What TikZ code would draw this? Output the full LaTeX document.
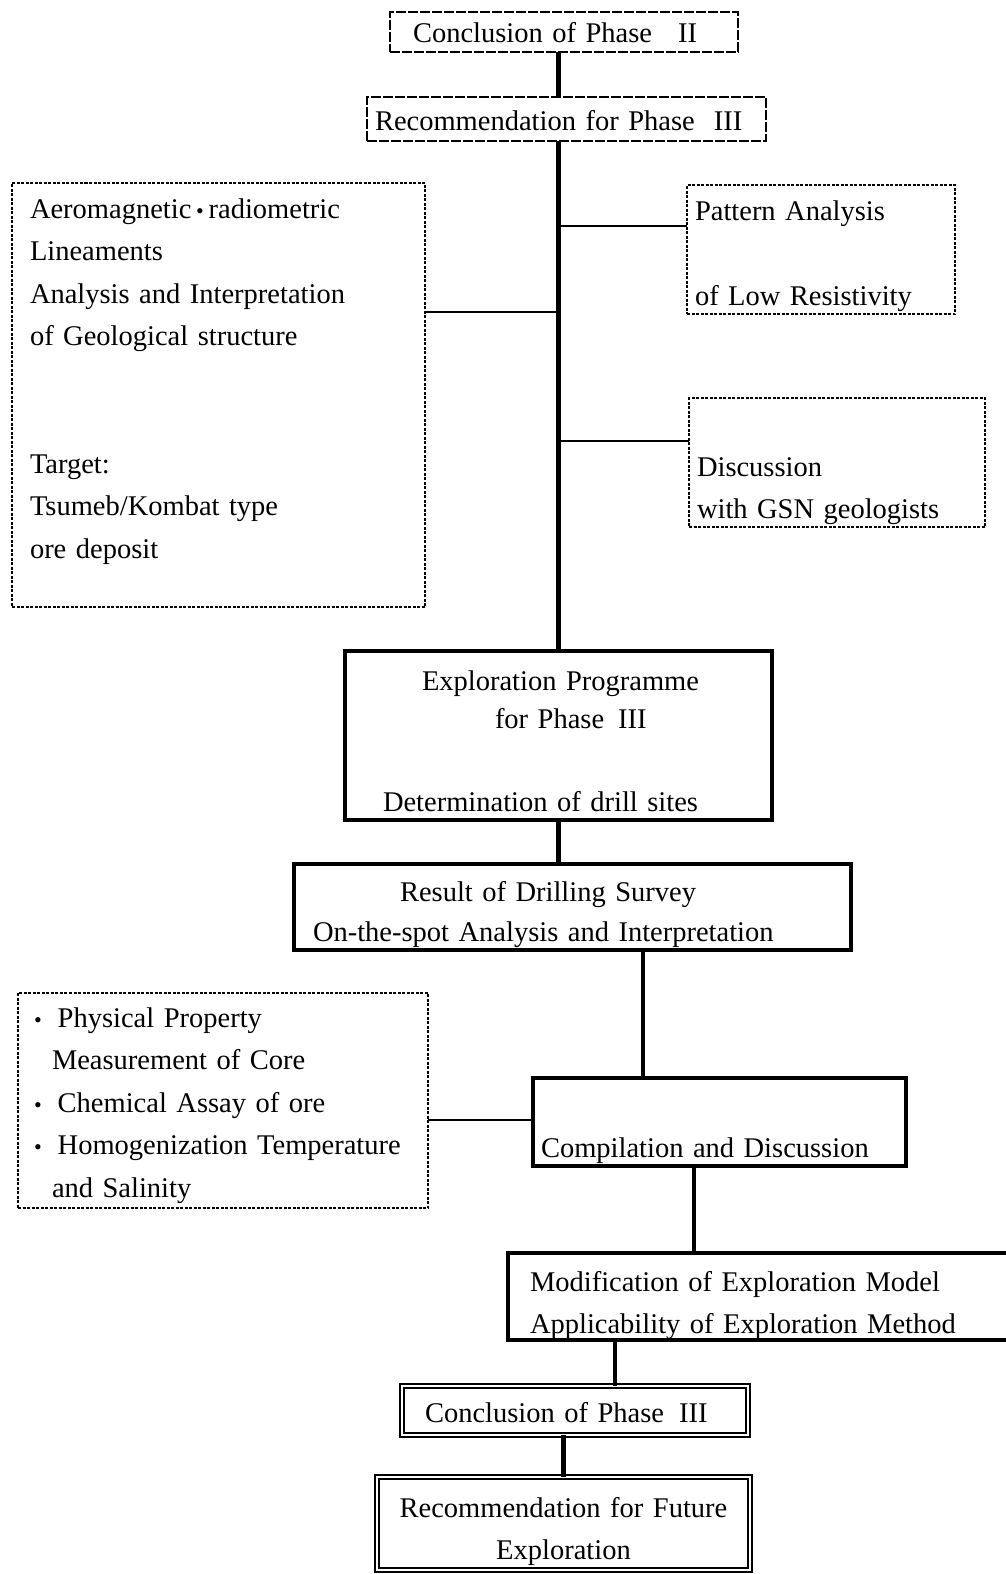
\documentclass[tikz,border=0pt]{standalone}
\usepackage{fontspec}
\setmainfont[WordSpace=0.85]{Liberation Serif}
\newcommand{\ptdot}{\raisebox{0pt}{\fontsize{22}{22}\selectfont\textbullet}}
\begin{document}
\begin{tikzpicture}[x=1pt,y=-1pt,
    font=\fontsize{28.5}{42.5}\selectfont,
    box/.style={draw,rectangle,anchor=north west,inner ysep=0pt,outer sep=0pt,align=left},
    phasebox/.style={box,line width=1.8pt,dash pattern=on 10pt off 2pt},
    notebox/.style={box,line width=1.2pt,dash pattern=on 3pt off 1.5pt},
    stepbox/.style={box,line width=3.5pt},
    endbox/.style={box,line width=1.4pt,double,double distance=2.5pt},
    trunk/.style={line width=4.5pt},
    branch/.style={line width=1.4pt}]
  \useasboundingbox (0,0) rectangle (1006,1574);
  % upper part
  \node[phasebox,inner xsep=23pt,text width=302pt,text height=30pt,text depth=10pt]
    (conc2) at (390,12) {Conclusion of Phase\hspace{26pt}II};
  \node[phasebox,inner xsep=8pt,text width=383pt,text height=33pt,text depth=11pt]
    (rec3) at (367,97) {Recommendation for Phase\hspace{19pt}III};
  \node[notebox,inner xsep=18pt,text width=377pt,text height=35pt,text depth=389pt]
    (info) at (12,183) {Aeromagnetic\,\ptdot\,radiometric\\Lineaments\\Analysis and Interpretation\\
      of Geological structure\\[85pt]Target:\\Tsumeb/Kombat type\\ore deposit};
  \node[notebox,inner xsep=8pt,text width=252pt,text height=35pt,text depth=94pt]
    (patt) at (687,185) {Pattern Analysis\\[42.5pt]of Low Resistivity};
  \node[notebox,inner xsep=8pt,text width=280pt,text height=78pt,text depth=51pt]
    (disc) at (689,398) {Discussion\\with GSN geologists};
  \node[stepbox,inner xsep=38pt,text width=351pt,text height=39pt,text depth=130pt]
    (expl) at (345,651) {\hspace*{39pt}Exploration Programme\\[-4pt]
      \hspace*{112pt}for Phase\hspace{14pt}III\\[40pt]Determination of drill sites};
  % lower part
  \node[stepbox,inner xsep=19pt,text width=519pt,text height=37pt,text depth=49pt]
    (res) at (294,864) {\hspace*{87pt}Result of Drilling Survey\\[-2pt]
      On-the-spot Analysis and Interpretation};
  \node[notebox,inner xsep=16pt,text width=378pt,text height=34pt,text depth=181pt]
    (phys) at (18,993) {\ptdot\hspace{16pt}Physical Property\\
      \hspace*{18pt}Measurement of Core\\
      \ptdot\hspace{16pt}Chemical Assay of ore\\
      \ptdot\hspace{16pt}Homogenization Temperature\\
      \hspace*{18pt}and Salinity};
  \node[stepbox,inner xsep=8pt,text width=357pt,text height=79pt,text depth=9pt]
    (comp) at (533,1078) {Compilation and Discussion};
  \node[stepbox,inner xsep=22pt,text width=460pt,text height=38pt,text depth=49pt]
    (modi) at (508,1253) {Modification of Exploration Model\\Applicability of Exploration Method};
  \node[endbox,inner xsep=23pt,text width=300pt,text height=36pt,text depth=13pt]
    (conc3) at (402,1386) {Conclusion of Phase\hspace{15pt}III};
  \node[endbox,align=center,inner xsep=10pt,text width=353pt,text height=40pt,text depth=53pt]
    (recf) at (377,1477) {Recommendation for Future\\Exploration};
  % connectors
  \coordinate (a1) at (558,226);
  \coordinate (a2) at (558,312);
  \coordinate (a3) at (558,441);
  \draw[trunk] (conc2.south -| expl.north) -- (rec3.north -| expl.north);
  \draw[trunk] (rec3.south -| expl.north) -- (expl.north);
  \draw[branch] (a1) -- (a1 -| patt.west);
  \draw[branch] (a2) -- (a2 -| info.east);
  \draw[branch] (a3) -- (a3 -| disc.west);
  \draw[trunk] (expl.south) -- (res.north -| expl.south);
  \draw[trunk] (res.south -| 643,0) -- (comp.north -| 643,0);
  \draw[branch] (phys.east |- 0,1120) -- (comp.west |- 0,1120);
  \draw[trunk] (comp.south -| 694,0) -- (modi.north -| 694,0);
  \draw[trunk] (modi.south -| 615,0) -- (conc3.north -| 615,0);
  \draw[trunk] (conc3.south -| recf.north) -- (recf.north);
\end{tikzpicture}
\end{document}
